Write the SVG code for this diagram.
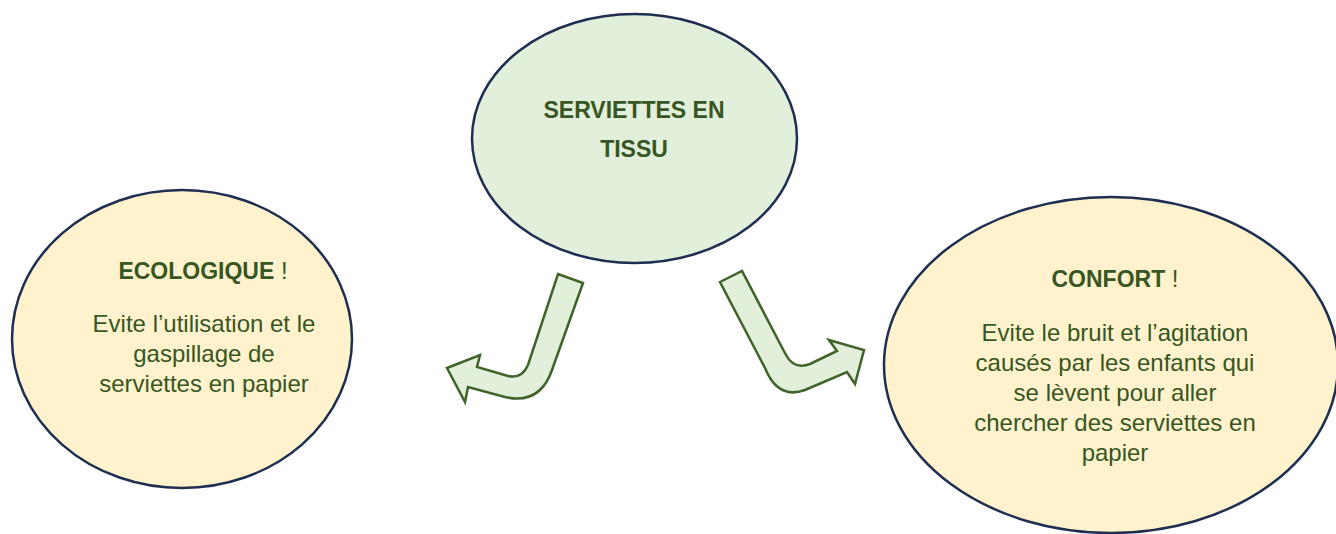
<svg xmlns="http://www.w3.org/2000/svg" width="1336" height="534" viewBox="0 0 1336 534">
<style>
.ell{stroke:#1F2F52;stroke-width:2.5}
.green{fill:#E2EFDA}
.yellow{fill:#FFF2CC}
.arrow{fill:#E2EFDA;stroke:#3F6328;stroke-width:2.5;stroke-linejoin:miter}
.t{fill:#375623;font-family:"Liberation Sans",Arial,sans-serif;text-anchor:middle}
.b{font-weight:bold;font-size:23px}
.r{font-size:24px}
</style>
<rect width="1336" height="534" fill="#FFFFFF"/>
<g id="node-center">
<ellipse class="ell green" cx="634.5" cy="138.5" rx="162.5" ry="124.5"/>
<text class="t b" x="634" y="118">SERVIETTES EN</text>
<text class="t b" x="634" y="157">TISSU</text>
</g>
<g id="node-ecologique">
<ellipse class="ell yellow" cx="182" cy="339" rx="170" ry="149"/>
<text class="t" x="203" y="279"><tspan class="b">ECOLOGIQUE</tspan><tspan class="r"> !</tspan></text>
<text class="t r" x="204" y="332">Evite l’utilisation et le</text>
<text class="t r" x="204" y="362">gaspillage de</text>
<text class="t r" x="204" y="392">serviettes en papier</text>
</g>
<g id="node-confort">
<ellipse class="ell yellow" cx="1111" cy="365" rx="227" ry="168"/>
<text class="t" x="1115" y="287"><tspan class="b">CONFORT</tspan><tspan class="r"> !</tspan></text>
<text class="t r" x="1115" y="341">Evite le bruit et l’agitation</text>
<text class="t r" x="1115" y="371">causés par les enfants qui</text>
<text class="t r" x="1115" y="401">se lèvent pour aller</text>
<text class="t r" x="1115" y="431">chercher des serviettes en</text>
<text class="t r" x="1115" y="461">papier</text>
</g>
<g id="connectors">
<path class="arrow" d="M 558 274 L 583 283 L 552 370 Q 540 405 505 397 L 468 387 L 465 402 L 447 368 L 480 355 L 477 367 L 508 376 Q 522 379 528 365 Z"/>
<path class="arrow" d="M 720 282 L 742 271 L 786 355 Q 794 370 810 364 L 837 351 L 829 340 L 864 350 L 855 384 L 847 372 L 805 390 Q 778 400 765 368 Z"/>
</g>
</svg>
